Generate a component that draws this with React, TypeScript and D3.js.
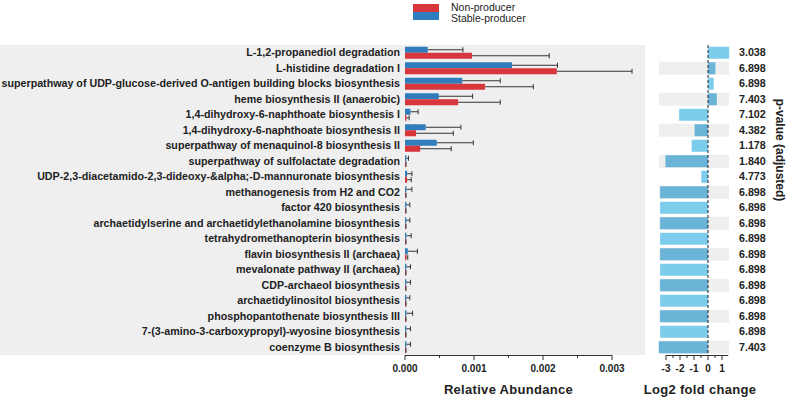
import React from 'react';
import { scaleLinear, scaleBand, range } from 'd3';

const pathways = [
  'L-1,2-propanediol degradation',
  'L-histidine degradation I',
  'superpathway of UDP-glucose-derived O-antigen building blocks biosynthesis',
  'heme biosynthesis II (anaerobic)',
  '1,4-dihydroxy-6-naphthoate biosynthesis I',
  '1,4-dihydroxy-6-naphthoate biosynthesis II',
  'superpathway of menaquinol-8 biosynthesis II',
  'superpathway of sulfolactate degradation',
  'UDP-2,3-diacetamido-2,3-dideoxy-&alpha;-D-mannuronate biosynthesis',
  'methanogenesis from H2 and CO2',
  'factor 420 biosynthesis',
  'archaetidylserine and archaetidylethanolamine biosynthesis',
  'tetrahydromethanopterin biosynthesis',
  'flavin biosynthesis II (archaea)',
  'mevalonate pathway II (archaea)',
  'CDP-archaeol biosynthesis',
  'archaetidylinositol biosynthesis',
  'phosphopantothenate biosynthesis III',
  '7-(3-amino-3-carboxypropyl)-wyosine biosynthesis',
  'coenzyme B biosynthesis',
];

// mean relative abundance and error (sd) per group
const stableMean = [0.00033, 0.00155, 0.00083, 0.00049, 0.00008, 0.0003, 0.00046, 0.00002, 0.00003, 0.00002, 0.00002, 0.00002, 0.00002, 0.00004, 0.00002, 0.00002, 0.00002, 0.00002, 0.00002, 0.00002];
const stableErr = [0.00051, 0.00066, 0.00055, 0.00049, 0.00011, 0.00051, 0.00053, 0.00003, 0.00007, 0.00008, 0.00005, 0.00005, 0.00007, 0.00014, 0.00006, 0.00006, 0.00005, 0.00009, 0.00006, 0.00006];
const nonMean = [0.00097, 0.0022, 0.00116, 0.00077, 0.00002, 0.00016, 0.00022, 0.000005, 0.00003, 0.000005, 0.000005, 0.000005, 0.000005, 0.00002, 0.000005, 0.000005, 0.000005, 0.000005, 0.000005, 0.000005];
const nonErr = [0.00112, 0.00109, 0.0007, 0.00061, 0.00004, 0.00054, 0.00045, 0.00001, 0.00006, 0.00001, 0.00001, 0.00001, 0.00001, 0.00002, 0.00001, 0.00001, 0.00001, 0.00001, 0.00001, 0.00001];

const log2fc = [1.51, 0.53, 0.41, 0.63, -2.06, -0.96, -1.17, -3.04, -0.48, -3.42, -3.42, -3.42, -3.42, -3.42, -3.42, -3.42, -3.42, -3.42, -3.42, -3.52];
const pValues = ['3.038', '6.898', '6.898', '7.403', '7.102', '4.382', '1.178', '1.840', '4.773', '6.898', '6.898', '6.898', '6.898', '6.898', '6.898', '6.898', '6.898', '6.898', '6.898', '7.403'];

const abundanceTicks = [0, 0.001, 0.002, 0.003];
const fcTicks = [-3, -2, -1, 0, 1];

const RED = '#d8363d';
const BLUE = '#2f7dbd';
const LIGHT = '#7ccdec';
const DARK = '#6ab4d8';
const FONT = 'Arial, "Liberation Sans", sans-serif';

export default function App() {
  const top = 45;
  const bottom = 355;
  const y = scaleBand<number>().domain(range(pathways.length)).range([top, bottom]);
  const x = scaleLinear().domain([0, 0.003]).range([405, 612]);
  const fx = scaleLinear().domain([0, 1]).range([708, 722]);
  const bh = 6;

  const errBar = (x0: number, x1: number, cy: number, key: string) => (
    <g key={key} stroke="#333" strokeWidth={1}>
      <line x1={x0} x2={x1} y1={cy} y2={cy} />
      <line x1={x1} x2={x1} y1={cy - 2.5} y2={cy + 2.5} />
    </g>
  );

  return (
    <svg width={794} height={400} style={{ position: 'absolute', left: 0, top: 0, background: '#fff' }} fontFamily={FONT}>
      {/* legend */}
      <rect x={413} y={4} width={26} height={8} fill={RED} />
      <rect x={413} y={12} width={26} height={8} fill={BLUE} />
      <text x={451} y={10.5} fontSize={10.5} fill="#222">Non-producer</text>
      <text x={451} y={21.5} fontSize={10.5} fill="#222">Stable-producer</text>

      {/* left panel */}
      <rect x={0} y={top} width={645} height={bottom - top} fill="#efefef" />
      {pathways.map((p, i) => {
        const cy = (y(i) as number) + y.bandwidth() / 2;
        return (
          <text key={p} x={400} y={cy} dy="0.35em" textAnchor="end" fontSize={10.7} fontWeight="bold" fill="#222">
            {p}
          </text>
        );
      })}
      {pathways.map((p, i) => {
        const cy = (y(i) as number) + y.bandwidth() / 2;
        return (
          <g key={'b' + i}>
            <rect x={x(0)} y={cy - bh} width={Math.max(x(stableMean[i]) - x(0), 0.8)} height={bh} fill={BLUE} />
            <rect x={x(0)} y={cy} width={Math.max(x(nonMean[i]) - x(0), 0.8)} height={bh} fill={RED} />
            {errBar(x(stableMean[i]), x(stableMean[i] + stableErr[i]), cy - bh / 2, 's')}
            {errBar(x(nonMean[i]), x(nonMean[i] + nonErr[i]), cy + bh / 2, 'n')}
          </g>
        );
      })}
      {/* left axis */}
      <g stroke="#333" strokeWidth={1}>
        <line x1={x(0)} x2={x(0.003)} y1={bottom + 0.5} y2={bottom + 0.5} />
        {range(7).map((k) => {
          const v = k * 0.0005;
          const major = k % 2 === 0;
          return <line key={k} x1={x(v)} x2={x(v)} y1={bottom} y2={bottom + (major ? 5 : 3)} />;
        })}
      </g>
      {abundanceTicks.map((t) => (
        <text key={t} x={x(t)} y={372} textAnchor="middle" fontSize={10} fontWeight="bold" fill="#222">
          {t.toFixed(3)}
        </text>
      ))}
      <text x={x(0.0015)} y={394} textAnchor="middle" fontSize={13} fontWeight="bold" fill="#222" letterSpacing={0.3}>
        Relative Abundance
      </text>

      {/* right panel */}
      {pathways.map((p, i) => {
        const cy = (y(i) as number) + y.bandwidth() / 2;
        const v = log2fc[i];
        return (
          <g key={'f' + i}>
            {i % 2 === 1 && <rect x={659} y={cy - 6.5} width={70} height={13} fill="#efefef" />}
            <rect x={fx(Math.min(0, v))} y={cy - 6} width={Math.abs(fx(v) - fx(0))} height={12} fill={i % 2 === 0 ? LIGHT : DARK} />
            <text x={739} y={cy} dy="0.35em" fontSize={10.7} fontWeight="bold" fill="#222">{pValues[i]}</text>
          </g>
        );
      })}
      <line x1={fx(0)} x2={fx(0)} y1={top} y2={bottom} stroke="#222" strokeWidth={1} strokeDasharray="3,2" />
      <g stroke="#333" strokeWidth={1}>
        <line x1={fx(-3)} x2={fx(1.45)} y1={bottom + 0.5} y2={bottom + 0.5} />
        {range(-6, 3).map((k) => {
          const v = k / 2;
          const major = k % 2 === 0;
          return <line key={k} x1={fx(v)} x2={fx(v)} y1={bottom} y2={bottom + (major ? 5 : 3)} />;
        })}
      </g>
      {fcTicks.map((t) => (
        <text key={t} x={fx(t)} y={372} textAnchor="middle" fontSize={10} fontWeight="bold" fill="#222">
          {t}
        </text>
      ))}
      <text x={700} y={394} textAnchor="middle" fontSize={13} fontWeight="bold" fill="#222" letterSpacing={0.3}>
        Log2 fold change
      </text>
      <text transform="translate(776,150) rotate(90)" textAnchor="middle" fontSize={12} fontWeight="bold" fill="#222">
        p-value (adjusted)
      </text>
    </svg>
  );
}
